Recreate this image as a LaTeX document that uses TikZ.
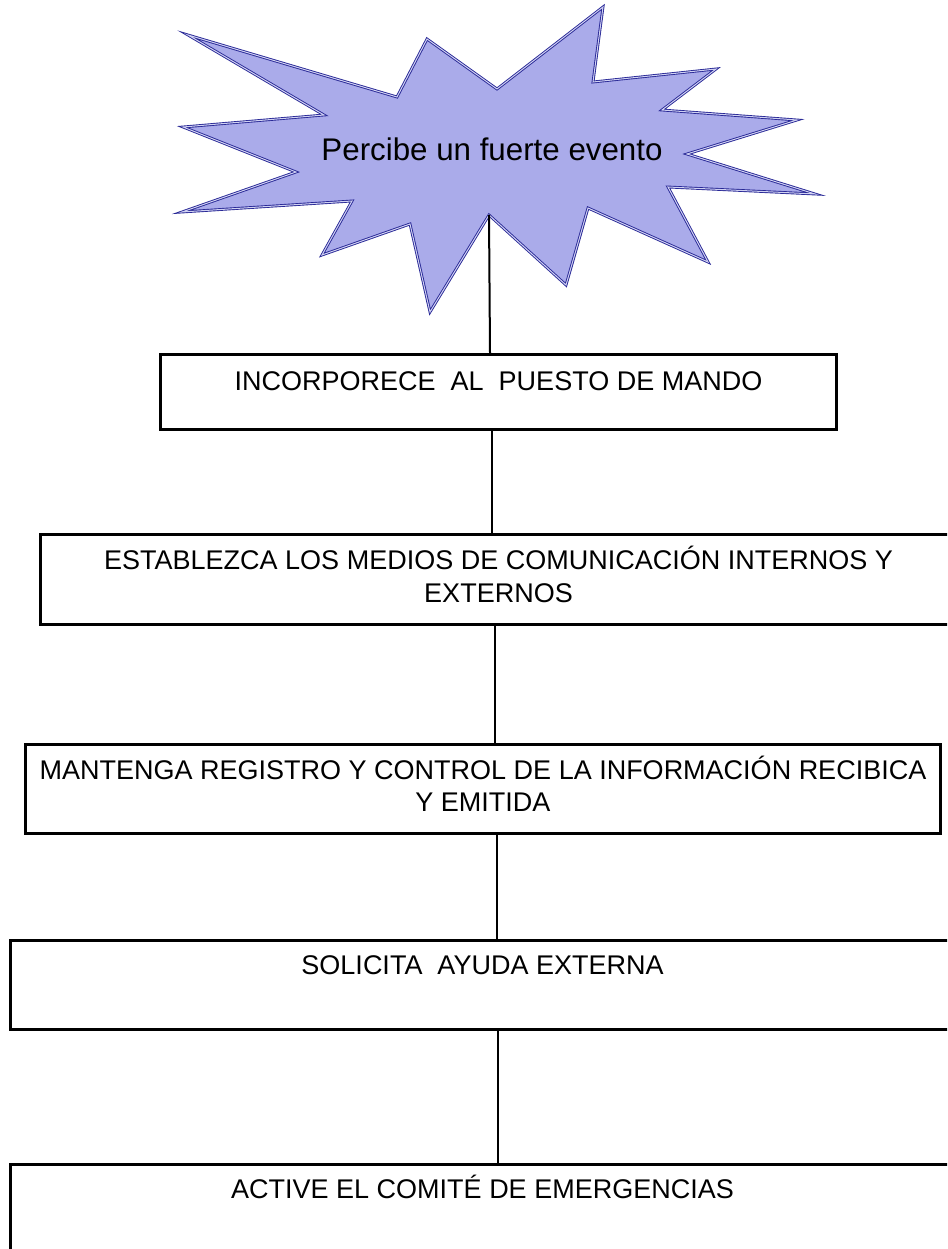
\documentclass[tikz,border=0pt]{standalone}
\usepackage{fontspec}
\setmainfont{Liberation Sans}
\usepackage{tikz}
\usetikzlibrary{positioning}
\definecolor{starfill}{RGB}{170,171,234}
\definecolor{starline}{RGB}{40,40,150}
\tikzset{
  stepbox/.style={draw=black, line width=3pt, anchor=north west, inner sep=0pt},
  steptext/.style={anchor=base, align=center, inner sep=0pt,
                   font=\fontsize{27}{32.5}\selectfont},
  link/.style={draw=black, line width=2pt}
}
\begin{document}
\begin{tikzpicture}[x=1pt,y=-1pt]
	\path[use as bounding box, clip] (0,0) rectangle (947,1249);

	% estallido
	\draw[starline, line width=0.9pt, double=white!45!starfill, double distance=1pt,
	      fill=starfill, miter limit=25]
	    (188,35) -- (324,115) -- (183,127) -- (296,172) -- (182,212) -- (352,201)
	 -- (322,255) -- (410,224) -- (430,312) -- (489,215) coordinate (notch)
	 -- (566,285) -- (588,208) -- (708,262) -- (668,187) -- (815,194) -- (687,154)
	 -- (797,120) -- (662,110) -- (716,69) -- (593,82) -- (603,7) -- (497,89)
	 -- (427,39) -- (397,97) -- cycle;
	\node[anchor=base, inner sep=0pt, font=\fontsize{31.3}{36}\selectfont] (star) at (492,160.7) {Percibe un fuerte evento};

	\begin{scope}[every node/.style={stepbox}]
		\node[minimum width=676pt, minimum height=75pt] (1) at (159,353) {};
		\node[minimum width=916pt, minimum height=90pt] (2) at (39,533) {};
		\node[minimum width=915pt, minimum height=89pt] (3) at (24,743) {};
		\node[minimum width=944pt, minimum height=89pt] (4) at (9,939) {};
		\node[minimum width=944pt, minimum height=120pt] (5) at (9,1163) {};
	\end{scope}

	% base = ultima linea del texto
	\begin{scope}[every node/.style={steptext}]
		\node (t1) at ([yshift=-37pt]1.north) {INCORPORECE\ \ AL\ \ PUESTO DE MANDO};
		\node (t2) at ([yshift=-69pt]2.north) {ESTABLEZCA LOS MEDIOS DE COMUNICACIÓN INTERNOS Y\\EXTERNOS};
		\node (t3) at ([yshift=-68.5pt]3.north) {MANTENGA REGISTRO Y CONTROL DE LA INFORMACIÓN RECIBICA\\Y EMITIDA};
		\node (t4) at ([yshift=-35pt]4.north) {SOLICITA\ \ AYUDA EXTERNA};
		\node (t5) at ([yshift=-35pt]5.north) {ACTIVE EL COMITÉ DE EMERGENCIAS};
	\end{scope}

	\begin{scope}[every edge/.style={link}]
		\path (notch) edge (1.north -| 490,0);
		\foreach \a/\b/\x in {1/2/492,2/3/494.5,3/4/496.5,4/5/497.5}
		{\path (\a.south -| \x,0) edge (\b.north -| \x,0);}
	\end{scope}
\end{tikzpicture}
\end{document}
